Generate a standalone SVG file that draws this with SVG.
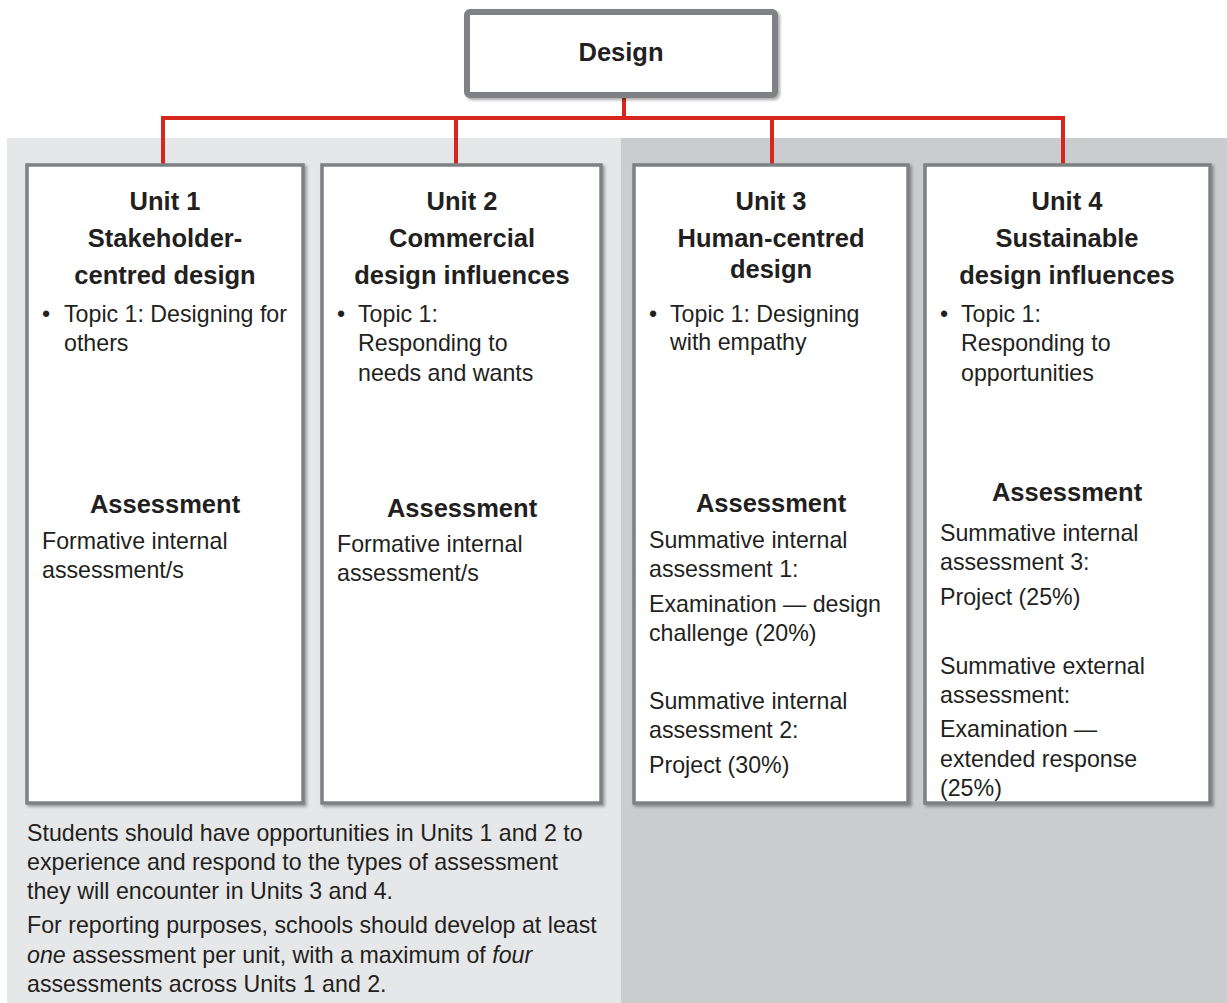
<svg xmlns="http://www.w3.org/2000/svg" width="1227" height="1003" viewBox="0 0 1227 1003">
  <defs>
    <filter id="sh" x="-5%" y="-5%" width="115%" height="115%">
      <feDropShadow dx="2" dy="2" stdDeviation="1.5" flood-color="#000" flood-opacity="0.35"/>
    </filter>
  </defs>
  <style>
    .box { fill: #ffffff; stroke: #7f8083; stroke-width: 3.5; filter: url(#sh); }
    .top { fill: #ffffff; stroke: #808184; stroke-width: 6; filter: url(#sh); }
    .conn { fill: none; stroke: #d7261e; stroke-width: 4; }
    text { font-family: "Liberation Sans", Arial, sans-serif; fill: #231f20; }
    .h { font-size: 25.5px; font-weight: bold; text-anchor: middle; }
    .b { font-size: 23.2px; }
  </style>

  <rect x="7" y="138" width="614" height="865" fill="#e6e7e9"/>
  <rect x="621" y="138" width="606" height="865" fill="#cbccce"/>

  <g id="connectors">
    <path class="conn" d="M624 97 V118 M163 118 H1063 M163 116 V165 M456 118 V165 M772 118 V165 M1063 116 V165"/>
  </g>

  <g id="design">
    <rect class="top" x="467" y="12" width="308" height="83" rx="3"/>
    <text class="h" x="621" y="61">Design</text>
  </g>

  <g id="unit1">
    <rect class="box" x="27" y="165" width="276" height="638"/>
    <text class="h" x="165" y="210">Unit 1</text>
    <text class="h" x="165" y="247">Stakeholder-</text>
    <text class="h" x="165" y="284">centred design</text>
    <text class="b" x="42" y="322">•</text>
    <text class="b" x="64" y="322">Topic 1: Designing for</text>
    <text class="b" x="64" y="351">others</text>
    <text class="h" x="165" y="513">Assessment</text>
    <text class="b" x="42" y="549">Formative internal</text>
    <text class="b" x="42" y="578">assessment/s</text>
  </g>

  <g id="unit2">
    <rect class="box" x="322" y="165" width="279" height="638"/>
    <text class="h" x="462" y="210">Unit 2</text>
    <text class="h" x="462" y="247">Commercial</text>
    <text class="h" x="462" y="284">design influences</text>
    <text class="b" x="337" y="322">•</text>
    <text class="b" x="358" y="322">Topic 1:</text>
    <text class="b" x="358" y="351">Responding to</text>
    <text class="b" x="358" y="381">needs and wants</text>
    <text class="h" x="462" y="517">Assessment</text>
    <text class="b" x="337" y="552">Formative internal</text>
    <text class="b" x="337" y="581">assessment/s</text>
  </g>

  <g id="unit3">
    <rect class="box" x="634" y="165" width="274" height="638"/>
    <text class="h" x="771" y="210">Unit 3</text>
    <text class="h" x="771" y="247">Human-centred</text>
    <text class="h" x="771" y="278">design</text>
    <text class="b" x="649" y="322">•</text>
    <text class="b" x="670" y="322">Topic 1: Designing</text>
    <text class="b" x="670" y="350">with empathy</text>
    <text class="h" x="771" y="512">Assessment</text>
    <text class="b" x="649" y="548">Summative internal</text>
    <text class="b" x="649" y="577">assessment 1:</text>
    <text class="b" x="649" y="612">Examination — design</text>
    <text class="b" x="649" y="641">challenge (20%)</text>
    <text class="b" x="649" y="709">Summative internal</text>
    <text class="b" x="649" y="738">assessment 2:</text>
    <text class="b" x="649" y="773">Project (30%)</text>
  </g>

  <g id="unit4">
    <rect class="box" x="925" y="165" width="285" height="638"/>
    <text class="h" x="1067" y="210">Unit 4</text>
    <text class="h" x="1067" y="247">Sustainable</text>
    <text class="h" x="1067" y="284">design influences</text>
    <text class="b" x="940" y="322">•</text>
    <text class="b" x="961" y="322">Topic 1:</text>
    <text class="b" x="961" y="351">Responding to</text>
    <text class="b" x="961" y="381">opportunities</text>
    <text class="h" x="1067" y="501">Assessment</text>
    <text class="b" x="940" y="541">Summative internal</text>
    <text class="b" x="940" y="570">assessment 3:</text>
    <text class="b" x="940" y="605">Project (25%)</text>
    <text class="b" x="940" y="674">Summative external</text>
    <text class="b" x="940" y="703">assessment:</text>
    <text class="b" x="940" y="737">Examination —</text>
    <text class="b" x="940" y="767">extended response</text>
    <text class="b" x="940" y="796">(25%)</text>
  </g>

  <g id="note">
    <text class="b" x="27" y="841">Students should have opportunities in Units 1 and 2 to</text>
    <text class="b" x="27" y="870">experience and respond to the types of assessment</text>
    <text class="b" x="27" y="899">they will encounter in Units 3 and 4.</text>
    <text class="b" x="27" y="933">For reporting purposes, schools should develop at least</text>
    <text class="b" x="27" y="963"><tspan font-style="italic">one</tspan> assessment per unit, with a maximum of <tspan font-style="italic">four</tspan></text>
    <text class="b" x="27" y="992">assessments across Units 1 and 2.</text>
  </g>
</svg>
